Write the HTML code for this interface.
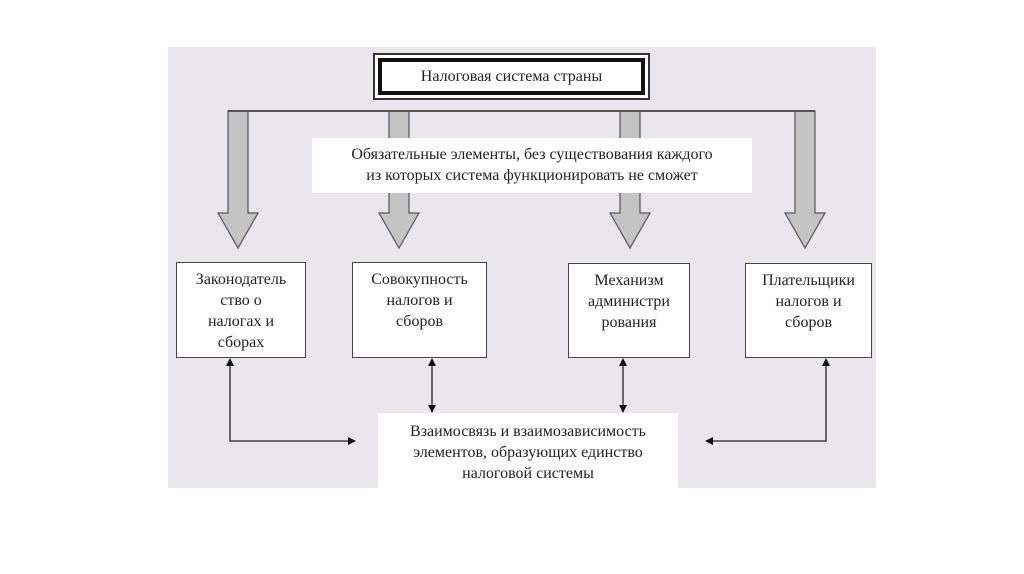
<!DOCTYPE html>
<html><head><meta charset="utf-8"><style>
body{margin:0;width:1024px;height:574px;background:#fff;position:relative;overflow:hidden;font-family:"Liberation Serif",serif;}
.a{position:absolute}
.box{position:absolute;background:#fff;border:1.5px solid #444;box-sizing:border-box;text-align:center;font-size:16px;line-height:21px;color:#222;padding-top:6px}
</style></head><body>
<div class="a" style="left:168px;top:47px;width:708px;height:441px;background:#e9e6ec"></div>
<svg class="a" style="left:0;top:0" width="1024" height="574">
<g fill="#c4c4c4" stroke="#555" stroke-width="1.2">
<polygon points="228,111 248,111 248,213 258,213 238,248 218,213 228,213"/>
<polygon points="389,111 409,111 409,213 419,213 399,248 379,213 389,213"/>
<polygon points="620,111 640,111 640,213 650,213 630,248 610,213 620,213"/>
<polygon points="795,111 815,111 815,213 825,213 805,248 785,213 795,213"/>
</g>
<line x1="228" y1="111" x2="815" y2="111" stroke="#555" stroke-width="2"/>
<g stroke="#222" stroke-width="1.3" fill="none">
<polyline points="230,362 230,441 352,441"/>
<line x1="432" y1="362" x2="432" y2="409"/>
<line x1="623" y1="362" x2="623" y2="409"/>
<polyline points="826,362 826,441 709,441"/>
</g>
<g fill="#111">
<polygon points="230,358 226,366 234,366"/><polygon points="356,441 348,437 348,445"/>
<polygon points="432,358 428,366 436,366"/><polygon points="432,413 428,405 436,405"/>
<polygon points="623,358 619,366 627,366"/><polygon points="623,413 619,405 627,405"/>
<polygon points="826,358 822,366 830,366"/><polygon points="705,441 713,437 713,445"/>
</g>
</svg>
<div class="a" style="left:373px;top:53px;width:277px;height:47px;background:#fff;border:2px solid #333;box-sizing:border-box"></div>
<div class="a" style="left:378px;top:58px;width:267px;height:37px;border:4px solid #111;box-sizing:border-box;background:#fff;text-align:center;font-size:16px;line-height:29px;color:#222">Налоговая система страны</div>
<div class="a" style="left:312px;top:138px;width:440px;height:55px;background:#fff;text-align:center;font-size:16px;line-height:21px;color:#222;padding-top:6px;box-sizing:border-box">Обязательные элементы, без существования каждого<br>из которых система функционировать не сможет</div>
<div class="box" style="left:176px;top:262px;width:130px;height:96px">Законодатель<br>ство о<br>налогах и<br>сборах</div>
<div class="box" style="left:352px;top:262px;width:135px;height:96px">Совокупность<br>налогов и<br>сборов</div>
<div class="box" style="left:568px;top:263px;width:122px;height:95px">Механизм<br>администри<br>рования</div>
<div class="box" style="left:745px;top:263px;width:127px;height:95px">Плательщики<br>налогов и<br>сборов</div>
<div class="a" style="left:378px;top:413px;width:300px;height:75px;background:#fff;text-align:center;font-size:16px;line-height:21px;color:#222;padding-top:8px;box-sizing:border-box">Взаимосвязь и взаимозависимость<br>элементов, образующих единство<br>налоговой системы</div>
</body></html>
